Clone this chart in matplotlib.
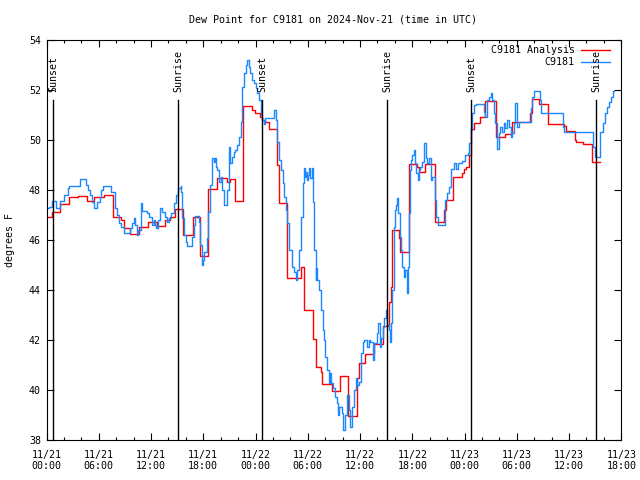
import matplotlib
matplotlib.use("Agg")
import matplotlib.pyplot as plt
import matplotlib.dates as mdates
import pandas as pd

plt.rcParams['font.family'] = 'DejaVu Sans Mono'
plt.rcParams['font.size'] = 7.2

start = pd.Timestamp("2024-11-21 00:00")
end = pd.Timestamp("2024-11-23 18:00")

# analysis (red) - step changes, hours after 11/21 00:00
red_h = [0.0, 0.6, 1.6, 2.6, 3.6, 4.6, 5.5, 6.6, 7.6, 8.6, 8.9, 9.6, 10.6, 11.6, 12.7,
         13.6, 14.2, 14.7, 15.7, 16.8, 17.6, 18.6, 19.6, 20.7, 21.1, 21.6, 22.6, 23.6,
         23.9, 24.5, 24.8, 25.1, 25.6, 26.5, 26.7, 27.6, 29.2, 29.55, 30.6, 31.0, 31.5,
         31.65, 32.8, 33.7, 34.64, 35.6, 35.9, 36.6, 37.6, 38.65, 39.3, 39.55, 39.7,
         40.45, 40.64, 41.65, 42.56, 42.75, 43.5, 44.65, 45.6, 45.9, 46.7, 47.7, 47.95,
         48.2, 48.55, 48.7, 49.06, 49.75, 50.4, 51.66, 52.6, 53.46, 55.5, 55.7, 56.5,
         57.6, 59.4, 59.6, 60.7, 60.85, 61.6, 62.65, 63.6]
red_v = [46.91, 47.12, 47.43, 47.71, 47.76, 47.56, 47.71, 47.79, 46.93, 46.8, 46.47,
         46.24, 46.51, 46.73, 46.56, 46.8, 46.93, 47.23, 46.2, 46.93, 45.36, 48.04,
         48.49, 48.33, 48.43, 47.56, 51.36, 51.2, 51.09, 50.93, 50.8, 50.73, 50.44,
         49.0, 47.47, 44.47, 44.93, 43.2, 42.02, 40.9, 40.73, 40.23, 39.96, 40.56,
         38.96, 40.47, 41.07, 41.43, 41.83, 42.56, 43.53, 44.1, 46.4, 46.07, 45.51,
         49.04, 48.93, 48.71, 49.04, 46.71, 47.2, 47.6, 48.51, 48.69, 48.83, 48.91,
         49.4, 50.43, 50.69, 50.91, 51.57, 50.11, 50.24, 50.73, 51.07, 51.63, 51.44,
         50.64, 50.56, 50.37, 50.0, 49.91, 49.84, 49.13, 49.13]

# observations (blue)
blue_h = [0.0, 0.3, 0.6, 1.1, 1.5, 2.05, 2.45, 2.64, 3.9, 4.55, 4.8, 4.94, 5.2, 5.5, 5.8,
          6.1, 6.3, 6.47, 7.42, 7.81, 8.1, 8.38, 8.6, 8.88, 9.64, 9.85, 10.0, 10.2,
          10.35, 10.5, 10.8, 11.0, 11.5, 11.75, 12.1, 12.35, 12.5, 12.6, 12.75, 13.0,
          13.3, 13.55, 13.8, 14.05, 14.3, 14.6, 14.9, 15.1, 15.4, 15.5, 15.6, 15.8,
          16.0, 16.15, 16.7, 16.9, 17.1, 17.5, 17.6, 17.8, 18.0, 18.1, 18.4, 18.6,
          18.8, 19.0, 19.2, 19.35, 19.45, 19.6, 19.8, 20.0, 20.2, 20.4, 20.75, 20.9,
          21.1, 21.3, 21.5, 21.7, 21.9, 22.1, 22.3, 22.4, 22.5, 22.7, 22.9, 23.05,
          23.25, 23.4, 23.6, 23.8, 24.0, 24.2, 24.4, 24.6, 24.8, 25.0, 25.1, 26.1,
          26.3, 26.5, 26.7, 26.9, 27.1, 27.3, 27.5, 27.65, 27.8, 28.2, 28.4, 28.6,
          28.8, 29.0, 29.2, 29.4, 29.55, 29.7, 29.8, 29.9, 30.0, 30.1, 30.3, 30.5,
          30.65, 30.75, 30.9, 31.0, 31.1, 31.3, 31.5, 31.7, 31.85, 32.0, 32.2, 32.4,
          32.5, 32.65, 32.9, 33.1, 33.3, 33.5, 33.6, 33.9, 34.1, 34.3, 34.5, 34.7,
          34.9, 35.1, 35.3, 35.5, 35.7, 35.9, 36.1, 36.3, 36.4, 36.8, 37.0, 37.2,
          37.5, 37.6, 37.9, 38.1, 38.25, 38.4, 38.6, 38.8, 38.95, 39.1, 39.3, 39.45,
          39.6, 39.7, 39.85, 40.0, 40.15, 40.3, 40.4, 40.55, 40.7, 40.85, 41.05, 41.2,
          41.35, 41.5, 41.6, 41.72, 41.85, 42.0, 42.2, 42.3, 42.45, 42.6, 42.75, 42.9,
          43.1, 43.3, 43.4, 43.55, 43.7, 43.9, 44.1, 44.3, 44.6, 44.75, 44.9, 45.8,
          46.0, 46.2, 46.4, 46.8, 47.0, 47.2, 47.7, 48.1, 48.4, 48.55, 48.7, 48.9,
          49.1, 49.3, 50.2, 50.35, 50.55, 50.8, 51.0, 51.1, 51.2, 51.4, 51.55, 51.75,
          51.9, 52.1, 52.3, 52.5, 52.7, 52.9, 53.1, 53.3, 53.5, 53.65, 53.85, 54.0,
          54.2, 55.6, 55.8, 56.0, 56.7, 56.8, 59.25, 59.4, 62.8, 62.95, 63.6, 63.85,
          64.1, 64.4, 64.6, 64.8, 65.0, 65.2]
blue_v = [47.27, 47.33, 47.56, 47.27, 47.56, 47.8, 48.07, 48.16, 48.43, 48.2, 48.0, 47.8,
          47.5, 47.29, 47.5, 47.73, 48.0, 48.16, 47.93, 47.29, 47.0, 46.67, 46.5, 46.29,
          46.47, 46.67, 46.87, 46.6, 46.2, 46.4, 47.47, 47.17, 47.07, 46.9, 46.6, 46.8,
          46.6, 46.47, 46.8, 47.27, 47.13, 46.93, 46.73, 46.87, 47.07, 47.47, 47.8,
          48.07, 48.16, 47.93, 46.87, 46.2, 45.93, 45.76, 46.13, 46.6, 46.96, 46.73,
          45.8, 45.0, 45.2, 45.53, 46.07, 47.13, 48.2, 49.27, 49.13, 49.27, 48.93, 48.8,
          48.33, 48.53, 48.0, 47.4, 48.0, 49.73, 49.07, 49.33, 49.53, 49.6, 49.8, 50.13,
          50.73, 51.6, 52.13, 52.67, 53.0, 53.2, 52.93, 52.67, 52.4, 52.27, 52.07, 51.87,
          51.6, 51.0, 50.8, 50.64, 50.87, 51.2, 50.8, 49.93, 49.2, 48.8, 48.27, 47.73,
          47.2, 46.67, 45.6, 44.93, 44.73, 44.4, 44.8, 45.6, 46.93, 48.27, 48.87, 48.5,
          48.73, 48.4, 48.6, 48.87, 48.47, 48.87, 47.5, 45.6, 44.4, 44.87, 44.4, 44.0,
          43.2, 42.4, 42.0, 41.33, 40.8, 40.27, 40.67, 40.27, 40.07, 39.73, 39.47, 39.0,
          39.33, 39.07, 38.4, 39.0, 39.8, 39.2, 38.53, 39.33, 40.0, 40.47, 40.2, 40.33,
          41.47, 41.93, 42.0, 41.73, 42.0, 41.93, 41.2, 41.87, 42.27, 42.67, 41.73,
          42.07, 42.53, 42.87, 43.2, 42.6, 42.4, 41.93, 42.67, 44.0, 46.53, 47.2, 47.4,
          47.67, 47.07, 46.13, 45.6, 44.93, 44.53, 44.8, 43.87, 44.93, 47.07, 48.8,
          49.2, 49.4, 49.6, 49.07, 48.67, 48.4, 48.8, 48.93, 49.13, 49.53, 49.87, 49.27,
          49.07, 49.27, 48.4, 48.53, 47.6, 46.93, 46.6, 47.6, 47.87, 48.13, 48.83, 49.07,
          48.83, 49.07, 49.17, 49.4, 49.47, 49.87, 50.4, 51.07, 51.4, 51.43, 51.13, 50.93,
          51.6, 51.73, 51.87, 51.73, 51.6, 51.07, 50.67, 49.63, 50.27, 50.53, 50.33,
          50.67, 50.47, 50.8, 50.53, 50.13, 50.27, 50.67, 51.47, 50.53, 50.73, 51.27,
          51.73, 51.97, 51.6, 51.07, 50.5, 50.31, 49.7, 49.31, 50.33, 50.67, 51.07,
          51.33, 51.53, 51.73, 51.97, 51.97]

sun_times = ["2024-11-21 00:45", "2024-11-21 15:06", "2024-11-22 00:45",
             "2024-11-22 15:07", "2024-11-23 00:46", "2024-11-23 15:08"]
sun_labels = ["Sunset", "Sunrise", "Sunset", "Sunrise", "Sunset", "Sunrise"]

red_t = start + pd.to_timedelta(red_h, unit="h")
blue_t = start + pd.to_timedelta(blue_h, unit="h")

fig = plt.figure(figsize=(6.4, 4.8), dpi=100)
ax = fig.add_axes([46.5 / 640, 40 / 480, 574.8 / 640, 400 / 480])

ax.step(red_t, red_v, where="post", color="#ff0000", lw=1.0)
ax.step(blue_t, blue_v, where="post", color="#1a88ff", lw=1.0)

for t, lab in zip(sun_times, sun_labels):
    t = pd.Timestamp(t)
    ax.axvline(t, ymin=0, ymax=0.85, color="black", lw=1.0)
    ax.text(t, 0.87, lab, rotation=90, ha="center", va="bottom",
            transform=ax.get_xaxis_transform())

ax.set_xlim(start, end)
ax.set_ylim(38, 54)
ax.set_yticks(range(38, 55, 2))
ax.xaxis.set_major_locator(mdates.HourLocator(byhour=[0, 6, 12, 18]))
ax.xaxis.set_minor_locator(mdates.HourLocator(byhour=range(0, 24, 2)))
ax.xaxis.set_major_formatter(mdates.DateFormatter("%m/%d\n%H:%M"))
ax.tick_params(which="both", direction="in", top=True, right=True, width=0.8)
ax.tick_params(which="major", length=5)
ax.tick_params(which="minor", length=2.5)
ax.tick_params(axis="x", pad=7)
ax.tick_params(axis="y", pad=4)
for s in ax.spines.values():
    s.set_linewidth(0.8)

# legend drawn gnuplot style: right aligned text, sample on the right
ax.text(0.919, 0.974, "C9181 Analysis", transform=ax.transAxes, ha="right", va="center")
ax.text(0.919, 0.944, "C9181", transform=ax.transAxes, ha="right", va="center")
ax.plot([0.930, 0.980], [0.974, 0.974], color="#ff0000", lw=1.0, transform=ax.transAxes)
ax.plot([0.930, 0.980], [0.944, 0.944], color="#1a88ff", lw=1.0, transform=ax.transAxes)

fig.text(0.52, 1 - 20 / 480, "Dew Point for C9181 on 2024-Nov-21 (time in UTC)",
         ha="center", va="center")
fig.text(0.016, 0.5, "degrees F", rotation=90, ha="center", va="center")

fig.savefig("out.png", dpi=100)
